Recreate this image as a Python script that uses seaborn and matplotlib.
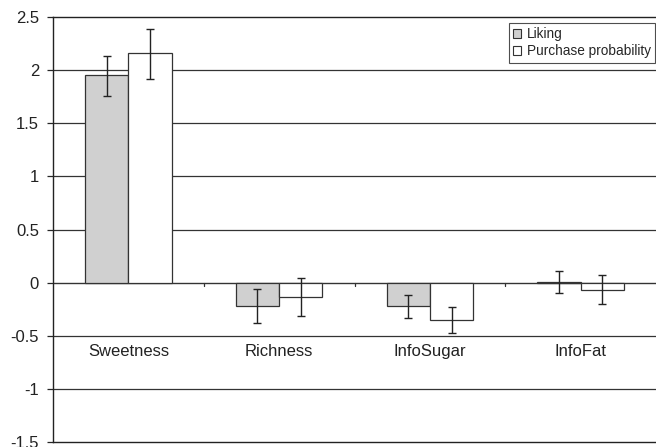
import matplotlib
matplotlib.use("Agg")
import matplotlib.pyplot as plt
import seaborn as sns
import pandas as pd
import numpy as np
from matplotlib.patches import Patch

categories = ["Sweetness", "Richness", "InfoSugar", "InfoFat"]
series = ["Liking", "Purchase probability"]
liking = [1.95, -0.22, -0.22, 0.006]
purchase = [2.16, -0.138, -0.35, -0.066]
liking_err_lo = [1.76, -0.377, -0.333, -0.097]
liking_err_hi = [2.135, -0.06, -0.113, 0.11]
purchase_err_lo = [1.92, -0.318, -0.47, -0.20]
purchase_err_hi = [2.39, 0.044, -0.23, 0.072]
yticks = [-1.5, -1, -0.5, 0, 0.5, 1, 1.5, 2, 2.5]
ytick_labels = ["-1.5", "-1", "-0.5", "0", "0.5", "1", "1.5", "2", "2.5"]

df = pd.DataFrame({
    "category": categories * 2,
    "series": [series[0]] * 4 + [series[1]] * 4,
    "value": liking + purchase,
})

sns.set_style("white")
plt.rcParams["font.family"] = ["Liberation Sans", "DejaVu Sans"]

fig = plt.figure(figsize=(6.56, 4.47), dpi=100)
ax = fig.add_axes([53 / 656, 5 / 447, 603 / 656, 425 / 447])

colors = {"Liking": "#d0d0d0", "Purchase probability": "#ffffff"}
sns.barplot(data=df, x="category", y="value", hue="series", order=categories,
            hue_order=series, palette=colors, width=0.574, edgecolor="#333333",
            linewidth=0.9, ax=ax, legend=False, errorbar=None, zorder=3)

# error bars
los = [liking_err_lo, purchase_err_lo]
his = [liking_err_hi, purchase_err_hi]
vals = [liking, purchase]
bar_containers = list(ax.containers)
for s_i, cont in enumerate(bar_containers):
    for c_i, bar in enumerate(cont.patches):
        xc = bar.get_x() + bar.get_width() / 2
        v = vals[s_i][c_i]
        lo = los[s_i][c_i]
        hi = his[s_i][c_i]
        ax.errorbar(xc, v, yerr=[[v - lo], [hi - v]], fmt="none", ecolor="#222222",
                    elinewidth=1.0, capsize=3, capthick=1.0, zorder=4)

ax.set_xlim(-0.5, 3.5)
ax.set_ylim(-1.5, 2.5)
ax.set_yticks(yticks)
ax.set_yticklabels(ytick_labels, fontsize=12, color="#222222")
for y in yticks:
    if y not in (0, -1.5, 2.5):
        ax.axhline(y, color="#333333", lw=0.9, zorder=1)
ax.axhline(0, color="#333333", lw=1.0, zorder=2)

# category axis at zero
ax.set_xticks(range(len(categories)))
ax.set_xticklabels([])
ax.tick_params(axis="x", which="major", length=0)
for xb in [0.5, 1.5, 2.5]:
    ax.plot([xb, xb], [0, -0.03], color="#333333", lw=0.9, zorder=2)
for i, c in enumerate(categories):
    ax.text(i, -0.645, c, ha="center", va="center", fontsize=12, color="#222222")

ax.tick_params(axis="y", which="major", length=4, width=0.9, direction="out",
               left=True, pad=6)
ax.set_xlabel("")
ax.set_ylabel("")
for side in ["left", "top", "bottom"]:
    ax.spines[side].set_color("#222222")
    ax.spines[side].set_linewidth(1.0)
ax.spines["right"].set_visible(False)

handles = [Patch(facecolor=colors[s], edgecolor="#333333", linewidth=0.8, label=s) for s in series]
leg = ax.legend(handles=handles, loc="upper right", bbox_to_anchor=(0.998, 0.986),
                fontsize=9.8, frameon=True, fancybox=False, handlelength=0.6,
                handleheight=0.6, handletextpad=0.4, borderpad=0.3,
                labelspacing=0.25, borderaxespad=0)
leg.get_frame().set_edgecolor("#222222")
leg.get_frame().set_linewidth(0.8)

fig.savefig("out.png", dpi=100)
